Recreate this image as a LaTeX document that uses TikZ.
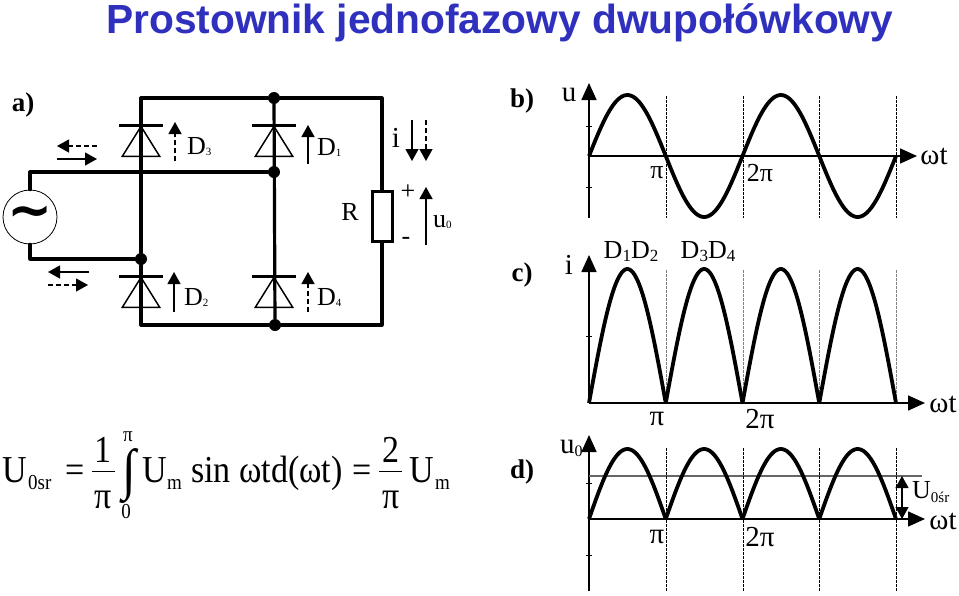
\documentclass[tikz,border=0pt]{standalone}
\usepackage{fontspec}
\setmainfont{Liberation Serif}
\newfontfamily\titlefont{Liberation Sans}
\newfontfamily\symfont{DejaVu Sans}
\usepackage{tikz}
\usetikzlibrary{positioning}
\usetikzlibrary{shapes.geometric, arrows.meta}
\definecolor{titleblue}{RGB}{48,48,190}
\newcommand{\fs}[1]{\fontsize{#1}{#1}\selectfont}
\newcommand{\lowsub}[2]{\raisebox{#1}{\fs{11}#2}}
\tikzstyle{wire} = [line width=3.2pt,line cap=round,line join=round]
\tikzstyle{arrow} = [line width=1.3pt,-{Triangle[length=12pt,width=13pt]}]
\tikzstyle{dasharrow} = [arrow,dash pattern=on 5pt off 3pt]
\tikzstyle{axisarrow} = [line width=1.6pt,-{Triangle[length=17pt,width=15pt]}]
\tikzstyle{dot} = [circle,fill=black,inner sep=0pt,minimum size=12pt]
\tikzstyle{diodebase} = [isosceles triangle,isosceles triangle apex angle=64,shape border rotate=90,draw,line width=1.5pt,inner sep=0pt,minimum height=30pt,anchor=apex,fill=none]
\tikzstyle{lbl} = [inner sep=0pt,font=\fs{26}]
\tikzstyle{biglbl} = [inner sep=0pt,font=\fs{29}]
\tikzstyle{panel} = [inner sep=0pt,font=\bfseries\fs{27}]
\tikzstyle{wave} = [line width=3.8pt,line join=round]
\tikzstyle{guide} = [line width=.7pt,dash pattern=on 2.5pt off 1.5pt]
\tikzstyle{formula} = [inner sep=0pt,anchor=base,font=\fs{34},yscale=1.12,transform shape]
\begin{document}
\begin{tikzpicture}[x=1pt,y=-1pt]
	\useasboundingbox (0,0) rectangle (959,595);
	
	%Title
	\node (title) [inner sep=0pt,anchor=base west,text=titleblue,font=\titlefont\bfseries\fs{40.7}] at (106,33) {Prostownik jednofazowy dwupołówkowy};
	
	%Circuit nodes
	\node (labA) [panel] at (23,105) {a)};
	\node (src) [draw,circle,line width=.8pt,minimum size=54pt,inner sep=0pt,fill=white,font=\symfont\bfseries\fs{54}] at (30,217) {∼};
	\coordinate (tl) at (141,98);
	\coordinate (bl) at (141,325);
	\coordinate (tr) at (382,98);
	\coordinate (br) at (382,325);
	\coordinate (wa) at (30,172);
	\coordinate (wb) at (30,259);
	\node (jt) [dot] at (274,98) {};
	\node (jm) [dot] at (274,172) {};
	\node (jl) [dot] at (141,259) {};
	\node (jb) [dot] at (275,325) {};
	\node (res) [draw,line width=3pt,fill=white,minimum width=20pt,minimum height=50pt,inner sep=0pt] at (382,216) {};
	
	%Lines
	\draw[wire] (src.north) -- (wa) -- (jm);
	\draw[wire] (src.south) -- (wb) -- (jl);
	\draw[wire] (jt) -- (tl) -- (jl) -- (bl) -- (jb);
	\draw[wire] (jt) -- (jb);
	\draw[wire] (jt) -- (tr) -- (res.north);
	\draw[wire] (res.south) -- (br) -- (jb);
	
	%Diodes
	\foreach \dx/\dy/\dname in {141/125/diodeC, 274/125/diodeA, 141/276/diodeB, 274/276/diodeD}{
		\node (\dname) [diodebase] at (\dx,\dy) {};
		\draw[line width=3pt] (\dx-22,\dy) -- (\dx+22,\dy);
	}
	
	%Diode arrows and labels
	\coordinate (a3s) at (175,161); \coordinate (a3e) at (175,122);
	\coordinate (a1s) at (308,164); \coordinate (a1e) at (308,125);
	\coordinate (a2s) at (174,312); \coordinate (a2e) at (174,272);
	\coordinate (a4s) at (308,312); \coordinate (a4e) at (308,272);
	\draw[dasharrow] (a3s) -- (a3e);
	\draw[arrow] (a1s) -- (a1e);
	\draw[arrow] (a2s) -- (a2e);
	\draw[dasharrow] (a4s) -- (a4e);
	\node (d3) [lbl,anchor=base west] at (187,154) {D\lowsub{-1pt}{3}};
	\node (d1) [lbl,anchor=base west] at (317,155) {D\lowsub{-1pt}{1}};
	\node (d2) [lbl,anchor=base west] at (184,305) {D\lowsub{-1pt}{2}};
	\node (d4) [lbl,anchor=base west] at (317,305) {D\lowsub{-1pt}{4}};
	
	%Current arrows in the source wires
	\coordinate (c1s) at (97,146); \coordinate (c1e) at (57,146);
	\coordinate (c2s) at (57,159); \coordinate (c2e) at (97,159);
	\coordinate (c3s) at (89,272); \coordinate (c3e) at (48,272);
	\coordinate (c4s) at (48,285); \coordinate (c4e) at (88,285);
	\draw[dasharrow] (c1s) -- (c1e);
	\draw[arrow] (c2s) -- (c2e);
	\draw[arrow] (c3s) -- (c3e);
	\draw[dasharrow] (c4s) -- (c4e);
	
	%Load side
	\coordinate (i1s) at (412,120); \coordinate (i1e) at (412,161);
	\coordinate (i2s) at (426,120); \coordinate (i2e) at (426,161);
	\coordinate (us) at (426,245); \coordinate (ue) at (426,187);
	\draw[arrow] (i1s) -- (i1e);
	\draw[dasharrow] (i2s) -- (i2e);
	\draw[arrow] (us) -- (ue);
	\node (il) [biglbl] at (396,138) {i};
	\node (rl) [lbl] at (350,212) {R};
	\node (plus) [lbl] at (408,192) {+};
	\node (minus) [lbl] at (406,241) {-};
	\node (u0) [lbl,anchor=base west] at (433,227) {u\lowsub{-1pt}{0}};
	
	%Panel b
	\coordinate (b0) at (589,156);
	\coordinate (bx) at (917,156);
	\coordinate (by) at (589,83);
	\coordinate (bb) at (589,218);
	\draw[axisarrow] (b0) -- (bx);
	\draw[axisarrow] (bb) -- (by);
	\foreach \ty in {126,187}{\draw[thin] (586,\ty) -- (592,\ty);}
	\foreach \gx in {666,743,819,896}{\draw[guide] (\gx,96) -- (\gx,218);}
	\draw[wave] plot[domain=0:307,samples=140,smooth] ({589+\x},{156-61*sin(\x/76.75*180)});
	\node (labB) [panel] at (522,101) {b)};
	\node (ub) [biglbl,anchor=base] at (569,101) {u};
	\node (tb) [biglbl] at (934,156) {ωt};
	\node (pb) [lbl] at (657,173) {π};
	\node (ppb) [lbl] at (760,173) {2π};
	
	%Panel c
	\coordinate (c0) at (589,403);
	\coordinate (cx) at (925,403);
	\coordinate (cy) at (589,255);
	\draw[axisarrow] (c0) -- (cx);
	\draw[axisarrow] (c0) -- (cy);
	\draw[thin] (586,336) -- (592,336);
	\foreach \gx in {666,743,819,896}{\draw[guide,gray] (\gx,270) -- (\gx,403);}
	\foreach \k in {0,1,2,3}{
		\draw[wave] plot[domain=0:76.75,samples=50,smooth] ({589+\k*76.75+\x},{403-134*sin(\x/76.75*180)});
	}
	\node (labC) [panel] at (522,275) {c)};
	\node (ic) [biglbl] at (569,265) {i};
	\node (tc) [biglbl] at (943,404) {ωt};
	\node (pc) [biglbl] at (657,419) {π};
	\node (ppc) [biglbl] at (760,419) {2π};
	\node (d12) [lbl,anchor=base] at (631,258) {D\lowsub{-3pt}{\fs{17}1}D\lowsub{-3pt}{\fs{17}2}};
	\node (d34) [lbl,anchor=base] at (708,258) {D\lowsub{-3pt}{\fs{17}3}D\lowsub{-3pt}{\fs{17}4}};
	
	%Panel d
	\coordinate (e0) at (589,519);
	\coordinate (ex) at (925,519);
	\coordinate (ey) at (589,435);
	\coordinate (eb) at (589,591);
	\coordinate (ml) at (589,476);
	\coordinate (mr) at (922,476);
	\coordinate (mb) at (902,519);
	\coordinate (mt) at (902,476);
	\draw[axisarrow] (eb) -- (ey);
	\draw[axisarrow] (e0) -- (ex);
	\draw[line width=1.2pt,black!60] (ml) -- (mr);
	\draw[line width=1.2pt,{Triangle[length=12pt,width=13pt]}-{Triangle[length=12pt,width=13pt]}] (mb) -- (mt);
	\foreach \ty in {483,555}{\draw[thin] (586,\ty) -- (592,\ty);}
	\foreach \gx in {666,743,819,896}{\draw[guide] (\gx,448) -- (\gx,591);}
	\foreach \k in {0,1,2,3}{
		\draw[wave] plot[domain=0:76.75,samples=50,smooth] ({589+\k*76.75+\x},{519-70*sin(\x/76.75*180)});
	}
	\node (labD) [panel] at (522,472) {d)};
	\node (ud) [biglbl,anchor=base west] at (560,453) {u\lowsub{-3pt}{\fs{16}0}};
	\node (td) [biglbl] at (943,521) {ωt};
	\node (pd) [biglbl] at (657,537) {π};
	\node (ppd) [biglbl] at (760,537) {2π};
	\node (um) [lbl,anchor=base west] at (912,498) {U\lowsub{-4pt}{\fs{15}0śr}};
	
	%Formula
	\node (f1) [formula,anchor=base west] at (2,482) {U};
	\node (f2) [formula,anchor=base west,font=\fs{19}] at (28,489) {0sr};
	\node (f3) [formula] at (75,482) {=};
	\node (f4) [formula] at (103,462) {1};
	\node (f5) [formula] at (103,508) {π};
	\coordinate (fa) at (92,471.5);
	\coordinate (fb) at (115,471.5);
	\draw[line width=1.2pt] (fa) -- (fb);
	\node (f6) [formula,font=\fs{50}] at (129,488) {∫};
	\node (f7) [formula,font=\fs{19}] at (128,441) {π};
	\node (f8) [formula,font=\fs{19}] at (126,518) {0};
	\node (f9) [formula,anchor=base west] at (142,482) {U};
	\node (f10) [formula,anchor=base west,font=\fs{19}] at (167,489) {m};
	\node (f11) [formula,anchor=base west] at (191,482) {sin ωtd(ωt)};
	\node (f12) [formula] at (362,482) {=};
	\node (f13) [formula] at (391,462) {2};
	\node (f14) [formula] at (391,508) {π};
	\coordinate (fc) at (379,471.5);
	\coordinate (fd) at (402,471.5);
	\draw[line width=1.2pt] (fc) -- (fd);
	\node (f15) [formula,anchor=base west] at (409,482) {U};
	\node (f16) [formula,anchor=base west,font=\fs{19}] at (435,489) {m};
\end{tikzpicture}
\end{document}
